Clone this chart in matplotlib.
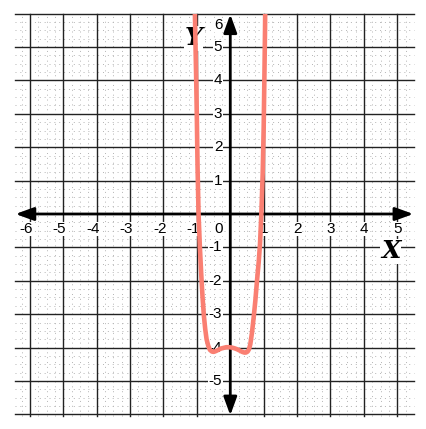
import numpy as np
import matplotlib.pyplot as plt
from matplotlib.patches import FancyArrowPatch

# points
curve_x = [-1.07, -1.05, -1.02, -1.00, -0.98, -0.95, -0.91, -0.87, -0.83, -0.79,
           -0.75, -0.71, -0.66, -0.61, -0.55, -0.50, -0.44, -0.36, -0.28, -0.20,
           -0.12, -0.04, 0.04, 0.12, 0.20, 0.28, 0.36, 0.42, 0.47, 0.52,
           0.56, 0.60, 0.65, 0.70, 0.75, 0.80, 0.85, 0.89, 0.93, 0.97,
           1.00, 1.02, 1.04, 1.05]
curve_y = [6.6, 5.5, 4.0, 2.8, 1.4, 0.0, -1.0, -1.8, -2.5, -3.05,
           -3.45, -3.75, -3.95, -4.07, -4.12, -4.13, -4.11, -4.07, -4.03, -4.01,
           -3.99, -3.99, -4.0, -4.02, -4.05, -4.09, -4.13, -4.15, -4.15, -4.12,
           -4.05, -3.9, -3.55, -3.1, -2.6, -2.0, -1.45, -0.9, 0.0, 1.2,
           2.6, 4.0, 5.5, 6.6]

x_ticks = [-6, -5, -4, -3, -2, -1, 1, 2, 3, 4, 5]
y_ticks = [-5, -4, -3, -2, -1, 1, 2, 3, 4, 5]

x_left, x_right = -6.45, 5.5
y_low, y_high = -6.05, 6.0

fig = plt.figure(figsize=(4.27, 4.29), dpi=100)
ax = fig.add_axes([0, 0, 1, 1])
ax.set_xlim(-6.895, 5.89)
ax.set_ylim(-6.44, 6.41)
ax.axis('off')

# minor grid
for v in np.arange(-6.25, 5.5, 0.25):
   if abs(v - round(v)) > 1e-6:
      ax.plot([v, v], [y_low, y_high], color='#b4b4b4', lw=0.7, ls=(0, (1, 4)), zorder=1)
for v in np.arange(-6.0, 6.0, 0.25):
   if abs(v - round(v)) > 1e-6:
      ax.plot([x_left, x_right], [v, v], color='#b4b4b4', lw=0.7, ls=(0, (1, 4)), zorder=1)

# major grid
for v in range(-6, 6):
   if v != 0:
      ax.plot([v, v], [y_low, y_high], color='#222222', lw=1.0, zorder=2)
for v in range(-6, 7):
   if v != 0:
      ax.plot([x_left, x_right], [v, v], color='#222222', lw=1.0, zorder=2)

# axes with arrows at both ends
arrow_style = '<|-|>,head_length=0.55,head_width=0.2'
ax.add_patch(FancyArrowPatch((x_left + 0.02, 0), (x_right - 0.02, 0), arrowstyle=arrow_style,
                             mutation_scale=20, lw=2, color='k', shrinkA=0, shrinkB=0, zorder=4))
ax.add_patch(FancyArrowPatch((0, y_low + 0.02), (0, y_high - 0.02), arrowstyle=arrow_style,
                             mutation_scale=20, lw=2, color='k', shrinkA=0, shrinkB=0, zorder=4))

box = dict(fc='white', ec='none', pad=0.3)
for t in x_ticks:
   pos = t - 0.11 if t < 0 else t
   ax.text(pos, -0.45, str(t), ha='center', va='center', fontsize=11,
           family='Liberation Sans', bbox=box, zorder=5)
ax.text(-0.36, -0.45, '0', ha='center', va='center', fontsize=11,
        family='Liberation Sans', bbox=box, zorder=5)
for t in y_ticks:
   ax.text(-0.24, t, str(t), ha='right', va='center', fontsize=11,
           family='Liberation Sans', bbox=box, zorder=5)
ax.text(-0.24, 5.66, '6', ha='right', va='center', fontsize=11,
        family='Liberation Sans', bbox=box, zorder=5)

ax.text(4.8, -1.12, 'X', ha='center', va='center', fontsize=18, fontweight='bold',
        fontstyle='italic', family='DejaVu Serif', bbox=box, zorder=5)
ax.text(-1.11, 5.27, 'Y', ha='center', va='center', fontsize=18, fontweight='bold',
        fontstyle='italic', family='DejaVu Serif', bbox=box, zorder=5)

ax.plot(curve_x, curve_y, color='#fa7f72', lw=3.3, solid_capstyle='round', zorder=6)
# keep the curve inside the grid
clip = plt.Rectangle((x_left, y_low), x_right - x_left, y_high - y_low, transform=ax.transData)
ax.lines[-1].set_clip_path(clip)

plt.savefig('out.png', dpi=100)
